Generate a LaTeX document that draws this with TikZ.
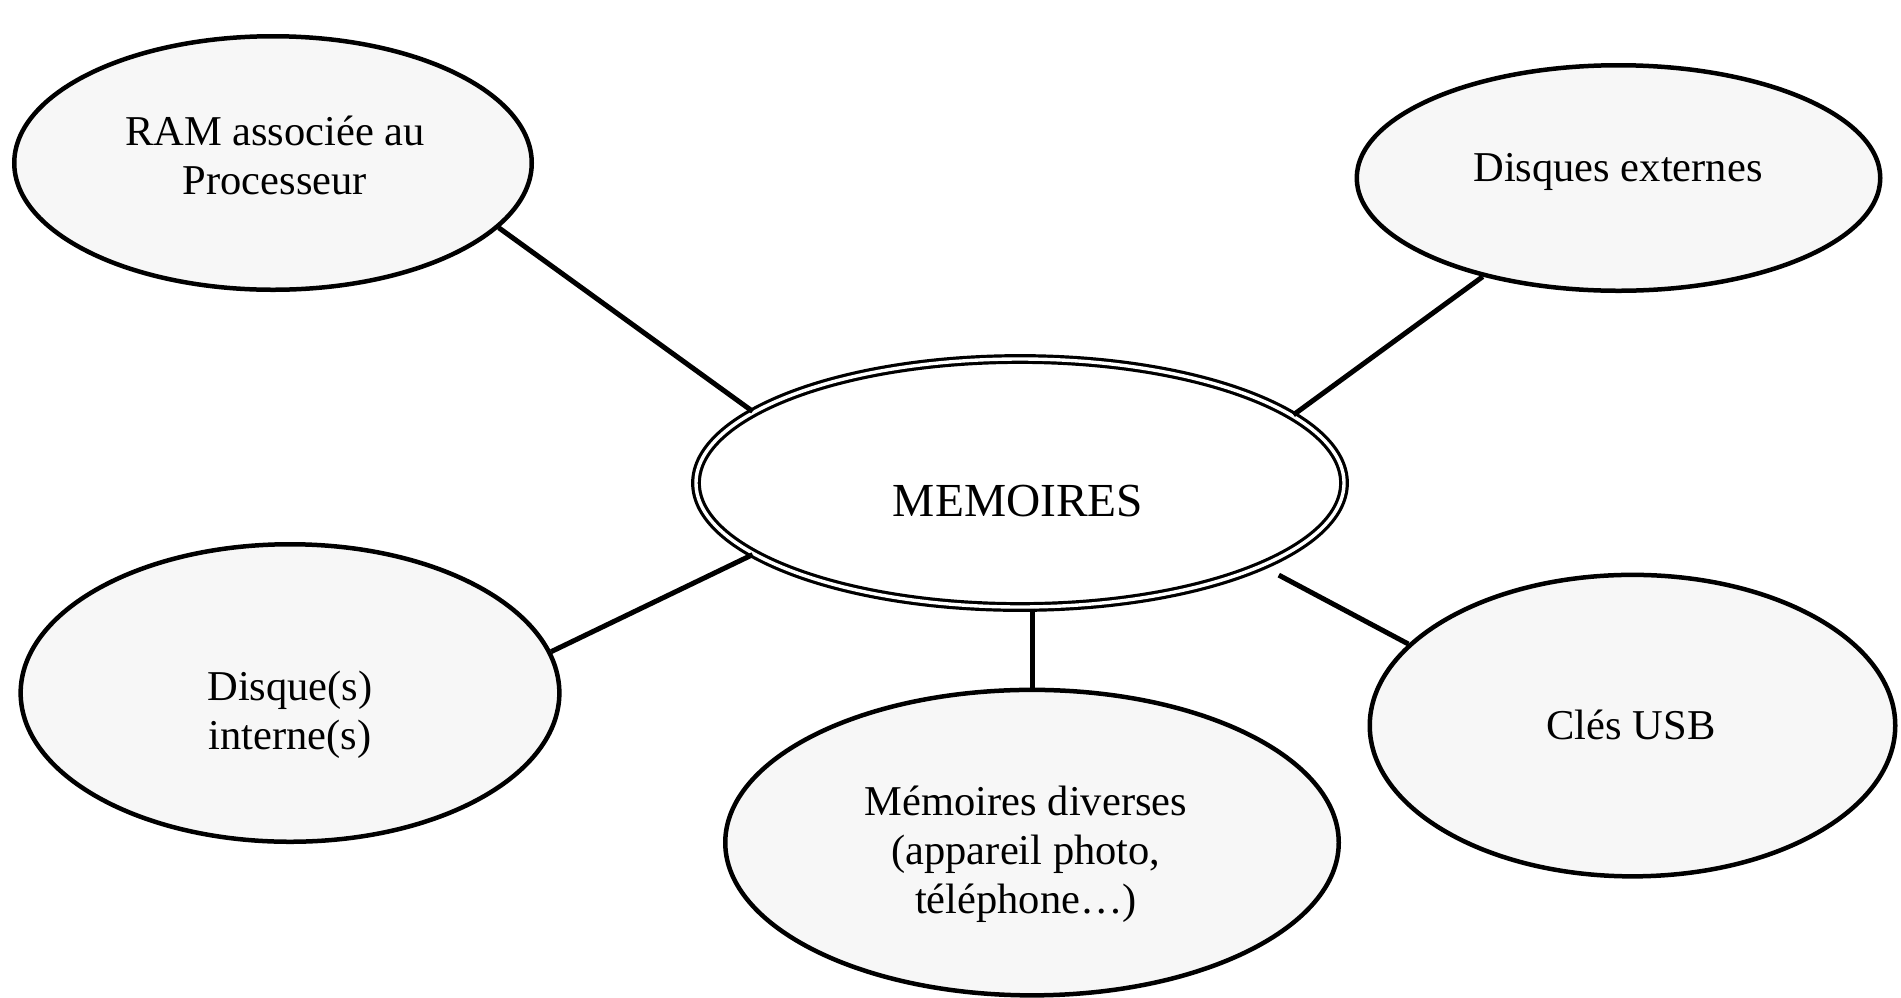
\documentclass[tikz,border=0pt]{standalone}
\usepackage{fontspec}
\setmainfont{Liberation Serif}
\usetikzlibrary{shapes.geometric}
\begin{document}
\begin{tikzpicture}[x=1pt,y=-1pt,
  bubble/.style={ellipse, draw=black, line width=4.5pt, fill=black!3, inner sep=0pt},
  mainbubble/.style={ellipse, draw=black, line width=3.2pt, double=white, double distance=3.4pt, fill=white, inner sep=0pt},
  txt/.style={align=center, font=\fontsize{42.5}{49}\selectfont, inner sep=0pt},
  bigtxt/.style={align=center, font=\fontsize{47.4}{55}\selectfont, inner sep=0pt},
  link/.style={draw=black, line width=5pt}]
\useasboundingbox (0,0) rectangle (1901,997);

\node[bubble, minimum width=517.5pt, minimum height=253.5pt] (ram) at (273,163) {};
\node[bubble, minimum width=523.5pt, minimum height=225.5pt] (ext) at (1618.5,178) {};
\node[mainbubble, minimum width=648pt, minimum height=248pt] (mem) at (1020,483) {};
\node[bubble, minimum width=538.7pt, minimum height=297.5pt] (int) at (290,693) {};
\node[bubble, minimum width=613.5pt, minimum height=305.5pt] (div) at (1032,842.6) {};
\node[bubble, minimum width=525.5pt, minimum height=301.5pt] (usb) at (1632.5,725.6) {};

\node[txt] (tram) at (275,155) {RAM associée au\\Processeur};
\node[txt] (text) at (1618,172) {Disques externes};
\node[bigtxt] (tmem) at (1018,501.5) {MEMOIRES};
\node[txt] (tint) at (290,714.5) {Disque(s)\\interne(s)};
\node[txt] (tdiv) at (1026,854) {Mémoires diverses\\(appareil photo,\\téléphone…)};
\node[txt] (tusb) at (1631,725) {Clés USB};

\draw[link] (ram.-16) -- (mem.165.8);
\draw[link] (ext.-144) -- (mem.14.3);
\draw[link] (int.9.3) -- (mem.-165);
\draw[link] (mem.south -| div.north) -- (div.north);
\draw[link, shorten <=18pt] (mem.-19) -- (usb.160.6);
\end{tikzpicture}
\end{document}
